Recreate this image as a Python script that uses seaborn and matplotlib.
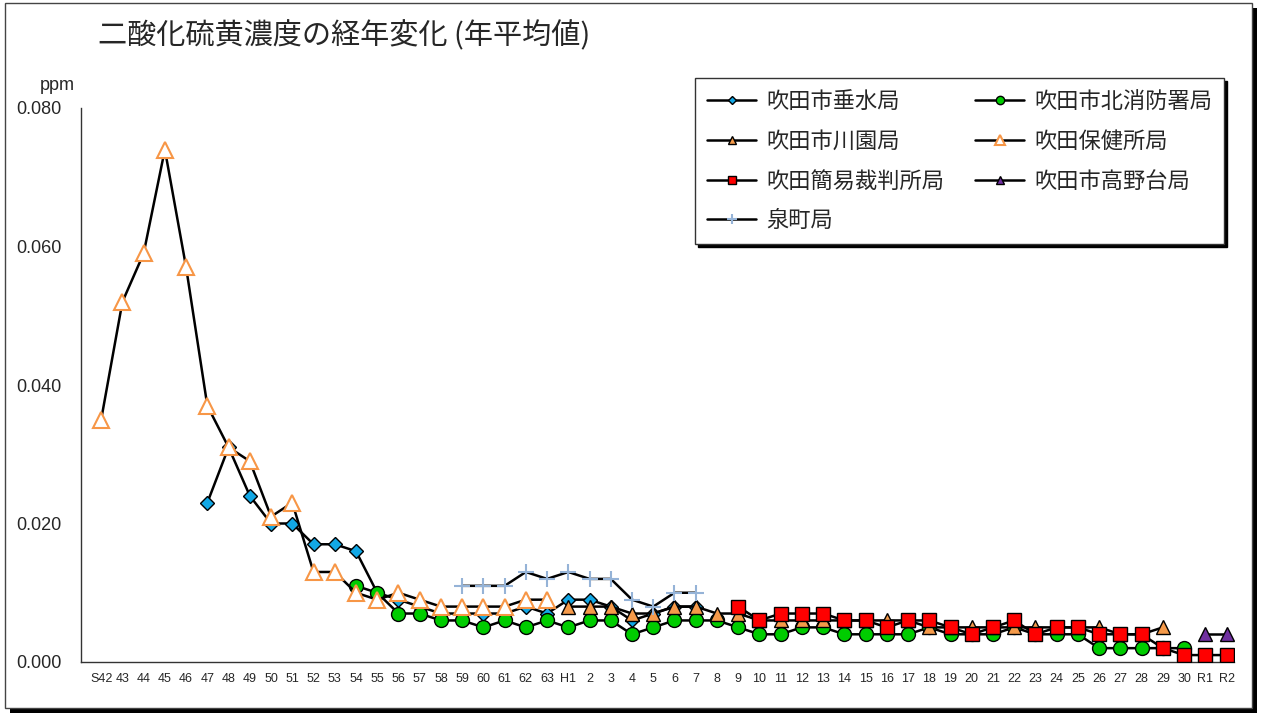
import numpy as np
import pandas as pd
import matplotlib
matplotlib.use('Agg')
import matplotlib.pyplot as plt
from matplotlib.patches import Rectangle
from matplotlib.ticker import FormatStrFormatter
import seaborn as sns

# 年度 (S42 〜 R2)
years = ['S42', '43', '44', '45', '46', '47', '48', '49', '50', '51', '52',
         '53', '54', '55', '56', '57', '58', '59', '60', '61', '62', '63',
         'H1', '2', '3', '4', '5', '6', '7', '8', '9', '10', '11', '12', '13',
         '14', '15', '16', '17', '18', '19', '20', '21', '22', '23', '24',
         '25', '26', '27', '28', '29', '30', 'R1', 'R2']

# 各局の年平均値 (ppm) と開始年度
tarumi_start = '47'
tarumi = [0.023, 0.031, 0.024, 0.020, 0.020, 0.017, 0.017, 0.016, 0.010,
          0.009, 0.008, 0.007, 0.007, 0.007, 0.007, 0.008, 0.007,
          0.009, 0.009, 0.008, 0.006, 0.007, 0.008, 0.008]

kitashobo_start = '54'
kitashobo = [0.011, 0.010, 0.007, 0.007, 0.006, 0.006, 0.005, 0.006, 0.005,
             0.006, 0.005, 0.006, 0.006, 0.004, 0.005, 0.006, 0.006, 0.006,
             0.005, 0.004, 0.004, 0.005, 0.005, 0.004, 0.004, 0.004, 0.004,
             0.005, 0.004, 0.004, 0.004, 0.005, 0.004, 0.004, 0.004, 0.002,
             0.002, 0.002, 0.002, 0.002]

kawazono_start = 'H1'
kawazono = [0.008, 0.008, 0.008, 0.007, 0.007, 0.008, 0.008, 0.007, 0.007,
            0.006, 0.006, 0.006, 0.006, 0.006, 0.006, 0.006, 0.006, 0.005,
            0.005, 0.005, 0.005, 0.005, 0.005, 0.005, 0.005, 0.005, 0.004,
            0.004, 0.005]

hokensho_start = 'S42'
hokensho = [0.035, 0.052, 0.059, 0.074, 0.057, 0.037, 0.031, 0.029, 0.021,
            0.023, 0.013, 0.013, 0.010, 0.009, 0.010, 0.009, 0.008, 0.008,
            0.008, 0.008, 0.009, 0.009]

saibansho_start = '9'
saibansho = [0.008, 0.006, 0.007, 0.007, 0.007, 0.006, 0.006, 0.005, 0.006,
             0.006, 0.005, 0.004, 0.005, 0.006, 0.004, 0.005, 0.005, 0.004,
             0.004, 0.004, 0.002, 0.001, 0.001, 0.001]

takanodai_start = 'R1'
takanodai = [0.004, 0.004]

izumicho_start = '59'
izumicho = [0.011, 0.011, 0.011, 0.013, 0.012, 0.013, 0.012, 0.012, 0.009,
            0.008, 0.010, 0.010]

sns.set_theme(style='white')
plt.rcParams['font.family'] = ['Noto Sans CJK JP', 'DejaVu Sans']

fig = plt.figure(figsize=(12.62, 7.16), dpi=100)
fig.patch.set_facecolor('white')

# 外枠と影
fig.patches.append(Rectangle((10 / 1262, 3 / 716), 1247 / 1262, 705 / 716,
                             transform=fig.transFigure, facecolor='black',
                             edgecolor='none', zorder=-3))
fig.patches.append(Rectangle((5 / 1262, 8 / 716), 1247 / 1262, 705 / 716,
                             transform=fig.transFigure, facecolor='white',
                             edgecolor='#444444', lw=1, zorder=-2))

ax = fig.add_axes([81 / 1262, 1 - 662 / 716, (1234 - 81) / 1262, (662 - 108) / 716])
ax.set_facecolor('none')

series = [
    ('吹田市垂水局', tarumi_start, tarumi,
     dict(marker='D', markersize=7.5, markerfacecolor='#12A8E6',
          markeredgecolor='black', markeredgewidth=1.0)),
    ('吹田市北消防署局', kitashobo_start, kitashobo,
     dict(marker='o', markersize=10, markerfacecolor='#00CC00',
          markeredgecolor='black', markeredgewidth=1.0)),
    ('吹田市川園局', kawazono_start, kawazono,
     dict(marker='^', markersize=10, markerfacecolor='#F59A4A',
          markeredgecolor='black', markeredgewidth=1.0)),
    ('吹田保健所局', hokensho_start, hokensho,
     dict(marker='^', markersize=11, markerfacecolor='white',
          markeredgecolor='#F79646', markeredgewidth=1.5)),
    ('吹田簡易裁判所局', saibansho_start, saibansho,
     dict(marker='s', markersize=10, markerfacecolor='#FF0000',
          markeredgecolor='black', markeredgewidth=1.0)),
    ('吹田市高野台局', takanodai_start, takanodai,
     dict(marker='^', markersize=10, markerfacecolor='#7030A0',
          markeredgecolor='black', markeredgewidth=1.0)),
    ('泉町局', izumicho_start, izumicho,
     dict(marker='+', markersize=12, markeredgecolor='#95B3D7',
          markeredgewidth=1.5)),
]

for i, (name, start, vals, style) in enumerate(series):
    s = years.index(start)
    df = pd.DataFrame({'x': np.arange(s, s + len(vals)), 'y': vals})
    sns.lineplot(data=df, x='x', y='y', ax=ax, color='black', lw=1.8,
                 label=name, zorder=3 + i, **style)

ax.set_xlim(-0.95, 53.35)
ax.set_ylim(0, 0.080)
ax.set_xticks(range(len(years)))
ax.set_xticklabels(years, fontsize=9, family=['Liberation Sans', 'DejaVu Sans'])
ax.set_yticks([0, 0.02, 0.04, 0.06, 0.08])
ax.yaxis.set_major_formatter(FormatStrFormatter('%.3f'))
for t in ax.get_yticklabels():
    t.set_fontsize(13)
    t.set_family(['Liberation Sans', 'DejaVu Sans'])
ax.tick_params(axis='both', direction='in', length=6, width=1, color='#333333',
               pad=8)
ax.tick_params(axis='y', pad=14)
ax.set_xlabel('')
ax.set_ylabel('')
for side in ['top', 'right']:
    ax.spines[side].set_visible(False)
for side in ['left', 'bottom']:
    ax.spines[side].set_color('#333333')
    ax.spines[side].set_linewidth(1)

fig.text(57 / 1262, 1 - 86 / 716, 'ppm', fontsize=13, ha='center', va='center',
         family=['Liberation Sans', 'DejaVu Sans'])
fig.text(98 / 1262, 1 - 36 / 716, '二酸化硫黄濃度の経年変化 (年平均値)',
         fontsize=21, ha='left', va='center')

handles, labels = ax.get_legend_handles_labels()
order = [0, 2, 4, 6, 1, 3, 5]
leg = ax.legend([handles[k] for k in order], [labels[k] for k in order],
                ncol=2, loc='upper left',
                bbox_to_anchor=(695 / 1262, 1 - 78 / 716),
                bbox_transform=fig.transFigure, borderaxespad=0,
                prop={'size': 16}, markerscale=0.6, handlelength=2.2,
                handletextpad=0.45, columnspacing=1.4, labelspacing=0.75,
                borderpad=0.55, fancybox=False, framealpha=1,
                edgecolor='#333333', shadow={'color': 'black', 'alpha': 1})
leg.get_frame().set_linewidth(1)
leg.set_zorder(20)

fig.savefig('out.png', dpi=100, facecolor='white')
